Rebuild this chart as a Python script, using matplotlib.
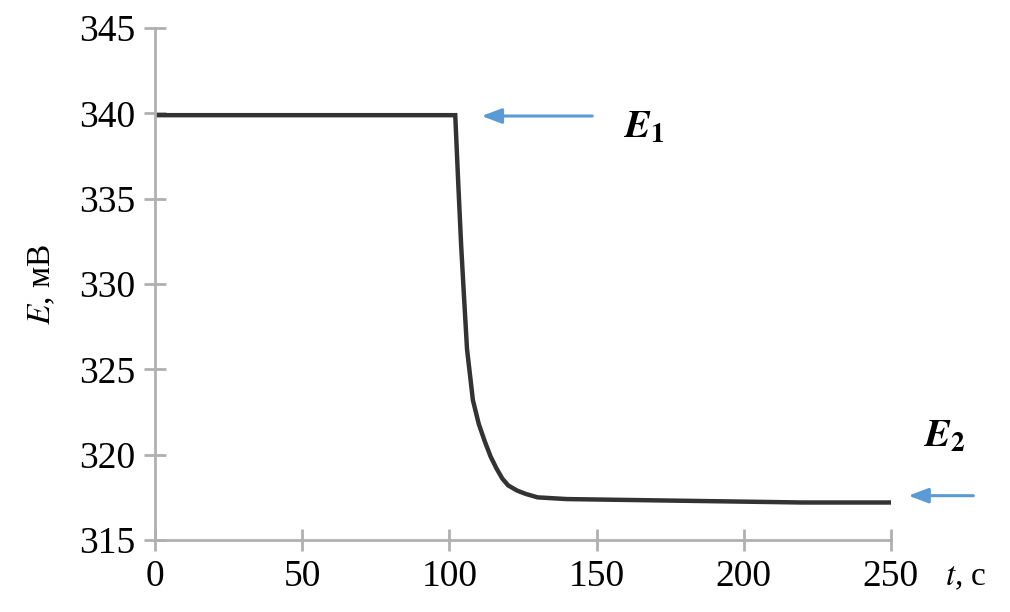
import matplotlib.pyplot as plt

# ------------------------------------------------------------------
# data (time in s, potential in mV)
# ------------------------------------------------------------------
t_s = [0, 20, 50, 80, 100, 102, 103, 104, 105, 106, 108, 110, 112, 114,
       116, 118, 120, 123, 126, 130, 140, 160, 180, 200, 220, 250]
e_mv = [339.9, 339.9, 339.9, 339.9, 339.9, 339.9, 336.0, 332.3, 329.2,
        326.2, 323.2, 321.8, 320.8, 319.9, 319.2, 318.6, 318.2, 317.9,
        317.7, 317.5, 317.4, 317.35, 317.3, 317.25, 317.2, 317.2]

x_ticks = [0, 50, 100, 150, 200, 250]
y_ticks = [315, 320, 325, 330, 335, 340, 345]

plt.rcParams['font.family'] = ['Liberation Serif', 'DejaVu Serif']
plt.rcParams['mathtext.fontset'] = 'stix'

fig = plt.figure(figsize=(10.1, 6.12), dpi=100)
ax = fig.add_axes([0.1535, 0.1176, 0.7285, 0.8364])

ax.plot(t_s, e_mv, color='#333333', linewidth=3.2, solid_joinstyle='miter')

ax.set_xlim(0, 250)
ax.set_ylim(315, 345)
ax.set_xticks(x_ticks)
ax.set_yticks(y_ticks)

axis_grey = '#B0B0B0'
for side in ['top', 'right']:
    ax.spines[side].set_visible(False)
for side in ['left', 'bottom']:
    ax.spines[side].set_color(axis_grey)
    ax.spines[side].set_linewidth(2)
ax.tick_params(direction='inout', length=16, width=2, color=axis_grey,
               labelsize=27, pad=6)

ax.set_ylabel('$\\mathit{E}$, мВ', fontsize=24, labelpad=16)
fig.text(0.936, 0.057, '$\\mathit{t}$, с', fontsize=24, ha='left', va='center')

# arrows pointing to E1 and E2 levels
arrow_blue = '#5B9BD5'
ax.annotate('', xy=(110, 339.85), xytext=(149.5, 339.85),
            arrowprops=dict(arrowstyle='-|>,head_length=1.2,head_width=0.45',
                            color=arrow_blue, lw=2.2))
ax.annotate('', xy=(255, 317.6), xytext=(279, 317.6), annotation_clip=False,
            arrowprops=dict(arrowstyle='-|>,head_length=1.2,head_width=0.45',
                            color=arrow_blue, lw=2.2))
ax.text(159, 339.1, '$\\mathbfit{E}_{\\mathbf{1}}$', fontsize=28,
        ha='left', va='center')
ax.text(261, 321.0, '$\\mathbfit{E}_{\\mathbf{2}}$', fontsize=28,
        ha='left', va='center', clip_on=False)

fig.savefig('out.png', dpi=100)
